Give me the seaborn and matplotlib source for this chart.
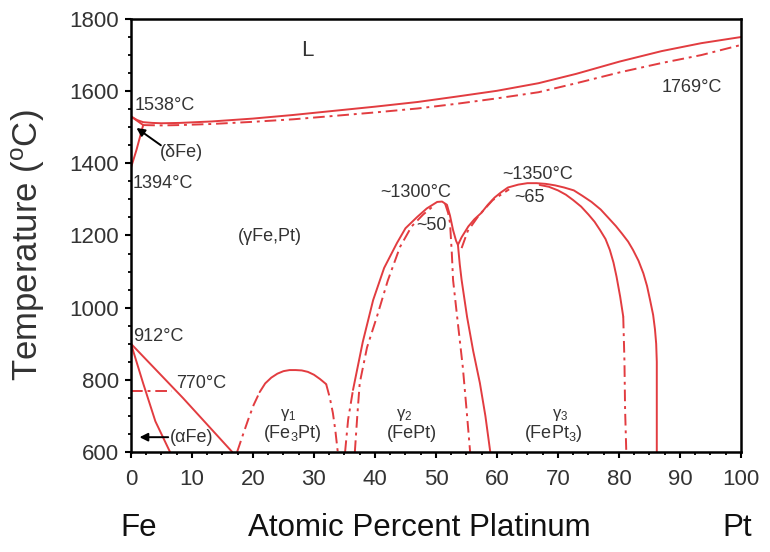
import numpy as np
import pandas as pd
import matplotlib
matplotlib.use("Agg")
import matplotlib.pyplot as plt
import seaborn as sns

# ---------------- data (at.% Pt, temperature in degC) ----------------
liq_x = [0, 1, 2, 3.5, 5, 8, 13.2, 20, 26.6, 33, 40, 47, 53.4, 60, 66.8, 73,
         80.1, 87, 93.5, 100]
liq_T = [1530, 1520, 1514, 1512, 1511, 1512, 1516, 1524, 1534, 1545, 1557,
         1570, 1585, 1601, 1622, 1648, 1682, 1711, 1733, 1750]

sol_x = [2, 5, 8, 13.2, 20, 26.6, 33, 40, 47, 53.4, 60, 66.8, 73, 80.1, 87,
         93.5, 100]
sol_T = [1506, 1505, 1506, 1509, 1515, 1522, 1531, 1541, 1552, 1565, 1580,
         1597, 1622, 1652, 1678, 1700, 1728]

delta_top_x = [0, 2.0]
delta_top_T = [1530, 1506]
delta_low_x = [0, 0.9, 2.0]
delta_low_T = [1388, 1437, 1506]

alpha1_x = [0, 2, 4, 6.4]
alpha1_T = [900, 790, 685, 600]
alpha2_x = [0, 8.5, 16.6]
alpha2_T = [900, 750, 600]

curie_x = [0, 6.7]
curie_T = [770, 770]

g1_left_x = [17.4, 18.3, 19.2, 20.1, 21.1]
g1_left_T = [600, 645, 689, 730, 766]
g1_top_x = [21.1, 22, 23, 24, 25, 26, 27, 28, 29, 30, 31, 32]
g1_top_T = [766, 790, 806, 817, 824, 827, 827, 826, 822, 814, 802, 788]
g1_right_x = [32, 32.6, 33.1, 33.5, 33.9]
g1_right_T = [788, 750, 708, 660, 600]

env_low_x = [35.1, 35.6, 36.4]
env_low_T = [600, 690, 772]
env_x = [36.4, 38.0, 39.7, 41.5, 43.6, 45.0, 46.9, 48.5, 50.2, 51.0, 51.8,
         52.3, 52.8, 53.3, 53.6, 54.2, 55.3, 56.3, 57.4, 58.5, 59.6, 60.7,
         61.8, 63.5, 65.0, 66.5, 68.0, 69.5, 71.0, 72.6, 74.0, 75.5, 77.0,
         78.2, 79.5, 80.5, 81.5, 82.3, 83.2, 84.0, 84.6, 85.1, 85.6, 85.9,
         86.1, 86.2, 86.2]
env_T = [772, 905, 1021, 1110, 1179, 1220, 1251, 1275, 1293, 1294, 1285,
         1255, 1215, 1185, 1174, 1195, 1225, 1245, 1262, 1285, 1305, 1320,
         1333, 1341, 1345, 1345, 1343, 1339, 1333, 1325, 1310, 1293, 1272,
         1250, 1226, 1205, 1183, 1160, 1130, 1095, 1060, 1021, 980, 940,
         900, 850, 600]

g2_in_x = [36.7, 37.1, 37.5, 38.7, 40.3, 42.1, 44.1, 46.0, 47.9, 49.8]
g2_in_T = [600, 700, 791, 890, 974, 1075, 1168, 1225, 1258, 1285]
g2_right_x = [51.5, 52.0, 52.3, 52.6, 52.8, 53.6, 54.4, 55.0, 55.6]
g2_right_T = [1288, 1262, 1235, 1150, 1077, 955, 835, 720, 600]

g3_left_x = [53.6, 53.9, 54.2, 55.1, 56.1, 57.2, 58.1, 58.9]
g3_left_T = [1174, 1120, 1077, 974, 880, 791, 700, 600]
g3_lin_x = [54.2, 55.2, 57.0, 59.3, 62.0]
g3_lin_T = [1165, 1212, 1255, 1298, 1328]

g3_in_x = [67.0, 68.5, 70.0, 71.3, 72.5, 73.8, 75.0, 76.0, 76.9, 77.8, 78.5,
           79.1, 79.6, 80.2, 80.7]
g3_in_T = [1340, 1335, 1325, 1313, 1298, 1280, 1258, 1238, 1215, 1190, 1160,
           1125, 1086, 1030, 975]
g3_in_low_x = [80.7, 80.9, 81.0, 81.2]
g3_in_low_T = [975, 850, 720, 600]

x_ticks = [0, 10, 20, 30, 40, 50, 60, 70, 80, 90, 100]
y_ticks = [600, 800, 1000, 1200, 1400, 1600, 1800]

# ---------------- style ----------------
sns.set_theme(style="white")
plt.rcParams["font.family"] = ["Liberation Sans", "DejaVu Sans"]
plt.rcParams["mathtext.fontset"] = "custom"
plt.rcParams["mathtext.rm"] = "Liberation Sans"
plt.rcParams["mathtext.it"] = "Liberation Sans"
plt.rcParams["mathtext.bf"] = "Liberation Sans:bold"

RED = "#e23c40"
TXT = "#333333"

fig = plt.figure(figsize=(7.7, 5.52), dpi=100)
ax = fig.add_axes([0.1701, 0.1812, 0.7922, 0.7844])

solid = [
    (liq_x, liq_T), (delta_top_x, delta_top_T), (delta_low_x, delta_low_T),
    (alpha1_x, alpha1_T), (alpha2_x, alpha2_T), (g1_top_x, g1_top_T),
    (env_x, env_T), (g3_left_x, g3_left_T), (g3_in_x, g3_in_T),
]
dashdot = [
    (sol_x, sol_T), (curie_x, curie_T), (g1_left_x, g1_left_T),
    (g1_right_x, g1_right_T), (env_low_x, env_low_T), (g2_in_x, g2_in_T),
    (g2_right_x, g2_right_T), (g3_lin_x, g3_lin_T), (g3_in_low_x, g3_in_low_T),
]
for xs, ts in solid:
    sns.lineplot(x=xs, y=ts, sort=False, estimator=None, ax=ax,
                 color=RED, lw=1.4, linestyle="-")
for xs, ts in dashdot:
    sns.lineplot(x=xs, y=ts, sort=False, estimator=None, ax=ax,
                 color=RED, lw=1.4, linestyle=(0, (6, 2.5, 1.5, 2.5)))

ax.set_xlim(0, 100)
ax.set_ylim(600, 1800)
ax.set_xticks(x_ticks)
ax.set_yticks(y_ticks)
ax.set_xticks(np.arange(0, 100.1, 2.5), minor=True)
ax.set_yticks(np.arange(600, 1800.1, 50), minor=True)
ax.tick_params(axis="both", which="major", direction="out", length=4.5,
               width=1.5, color="black", labelsize=16, labelcolor=TXT,
               bottom=True, left=True, top=False, right=False)
ax.tick_params(axis="x", which="major", pad=8)
ax.tick_params(axis="y", which="major", pad=4)
ax.tick_params(axis="both", which="minor", direction="out", length=2.5,
               width=1.3, color="black", bottom=True, left=True,
               top=False, right=False)
for s in ax.spines.values():
    s.set_color("black")
    s.set_linewidth(1.8)
ax.set_xlabel("")
ax.set_ylabel("")

# axis titles
fig.text(0.037, 0.556, "Temperature ($^{o}$C)", rotation=90, ha="center",
         va="center", fontsize=25, color=TXT)
fig.text(0.545, 0.044, "Atomic Percent Platinum", ha="center", va="center",
         fontsize=22.5, color="#111111")
fig.text(0.180, 0.044, "Fe", ha="center", va="center", fontsize=22.5, color="#111111")
fig.text(0.958, 0.044, "Pt", ha="center", va="center", fontsize=22.5, color="#111111")

# annotations
fs = 13
ax.text(28.9, 1714, "L", ha="center", va="center", fontsize=16, color=TXT)
ax.text(92.0, 1609, "1769°C", ha="center", va="center", fontsize=fs, color=TXT)
ax.text(0.6, 1560, "1538°C", ha="left", va="center", fontsize=fs, color=TXT)
ax.text(4.8, 1431, "(δFe)", ha="left", va="center", fontsize=fs, color=TXT)
ax.text(0.3, 1345, "1394°C", ha="left", va="center", fontsize=fs, color=TXT)
ax.text(22.8, 1196, "(γFe,Pt)", ha="center", va="center", fontsize=fs, color=TXT)
ax.text(46.6, 1318, "~1300°C", ha="center", va="center", fontsize=fs, color=TXT)
ax.text(49.2, 1229, "~50", ha="center", va="center", fontsize=fs, color=TXT)
ax.text(66.6, 1368, "~1350°C", ha="center", va="center", fontsize=fs, color=TXT)
ax.text(65.4, 1304, "~65", ha="center", va="center", fontsize=fs, color=TXT)
ax.text(0.3, 919, "912°C", ha="left", va="center", fontsize=fs, color=TXT)
ax.text(7.4, 791, "770°C", ha="left", va="center", fontsize=fs, color=TXT)
ax.text(6.4, 641, "(αFe)", ha="left", va="center", fontsize=fs, color=TXT)

ax.text(25.8, 702, r"$\gamma_1$", ha="center", va="center", fontsize=12, color=TXT)
ax.text(26.4, 650, r"(Fe$_3$Pt)", ha="center", va="center", fontsize=fs, color=TXT)
ax.text(44.8, 702, r"$\gamma_2$", ha="center", va="center", fontsize=12, color=TXT)
ax.text(46.0, 650, "(FePt)", ha="center", va="center", fontsize=fs, color=TXT)
ax.text(70.3, 702, r"$\gamma_3$", ha="center", va="center", fontsize=12, color=TXT)
ax.text(69.2, 650, r"(FePt$_3$)", ha="center", va="center", fontsize=fs, color=TXT)

# arrows
ax.annotate("", xy=(0.9, 1498), xytext=(4.9, 1450),
            arrowprops=dict(arrowstyle="-|>", color="black", lw=1.4,
                            mutation_scale=12, shrinkA=0, shrinkB=0))
ax.annotate("", xy=(1.4, 641), xytext=(6.1, 641),
            arrowprops=dict(arrowstyle="-|>", color="black", lw=1.4,
                            mutation_scale=12, shrinkA=0, shrinkB=0))

fig.savefig("out.png", dpi=100, facecolor="white")
